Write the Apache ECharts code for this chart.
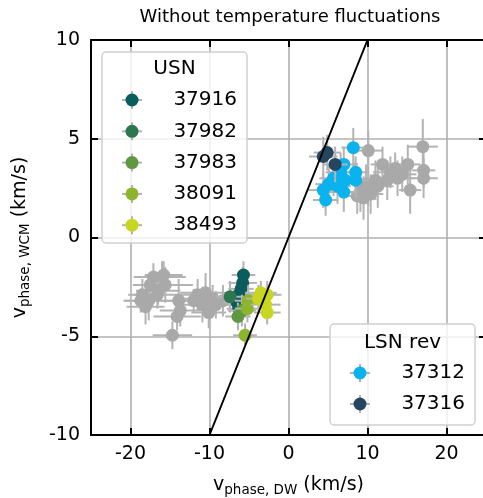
<!DOCTYPE html>
<html>
<head>
<meta charset="utf-8">
<script src="https://cdn.jsdelivr.net/npm/echarts@6/dist/echarts.min.js"></script>
<style>html,body{margin:0;padding:0;background:#fff;}#c{width:483px;height:498px;}</style>
</head>
<body>
<div id="c"></div>
<script>
// ---- data ----
const xTicks = [-20, -10, 0, 10, 20];
const yTicks = [-10, -5, 0, 5, 10];
const refLineX = [-10, 10];
const refLineY = [-10, 10];

// background (gray) points, USN side
const grayUsnX  = [-17.1, -16.0, -17.5, -15.6, -16.5, -18.5, -18.7, -17.7, -18.1, -16.6, -13.9, -13.7, -14.1, -14.7, -11.5, -10.5, -9.6, -10.9, -10.1, -9.2, -12.0, -15.8, -8.3];
const grayUsnY  = [-2.0, -2.0, -2.4, -2.4, -2.7, -2.9, -3.2, -3.2, -3.5, -2.9, -3.2, -3.7, -4.0, -4.95, -2.9, -2.8, -3.1, -3.4, -3.8, -3.4, -3.2, -1.9, -3.2];
const grayUsnXe = [2.5, 3.0, 2.2, 3.5, 2.8, 1.8, 2.0, 3.2, 2.4, 3.0, 3.6, 2.6, 3.0, 2.5, 2.6, 3.2, 3.8, 2.8, 2.2, 3.4, 2.0, 2.4, 3.0];
const grayUsnYe = [0.7, 0.8, 0.6, 0.9, 0.7, 0.8, 0.6, 1.0, 0.9, 0.7, 1.1, 0.8, 0.7, 0.7, 0.8, 1.0, 0.7, 0.9, 0.8, 0.7, 0.6, 0.7, 0.8];

// background (gray) points, LSN side
const grayLsnX  = [10.1, 17.0, 11.9, 13.5, 15.1, 17.1, 17.1, 15.4, 13.8, 12.5, 11.3, 10.1, 9.1, 9.5, 8.7, 10.4, 14.4, 12.9, 11.0, 9.8];
const grayLsnY  = [4.4, 4.6, 3.7, 3.5, 3.7, 3.4, 3.0, 2.4, 3.0, 2.9, 2.6, 2.5, 2.3, 2.0, 2.1, 2.2, 3.2, 3.3, 2.9, 2.7];
const grayLsnXe = [1.8, 1.9, 1.5, 2.0, 1.6, 1.5, 1.8, 1.4, 2.2, 1.8, 2.0, 1.7, 1.9, 1.5, 2.1, 1.6, 1.8, 2.2, 1.6, 1.9];
const grayLsnYe = [1.0, 1.4, 0.9, 0.8, 1.0, 0.9, 1.0, 1.2, 0.9, 1.0, 1.1, 0.9, 1.0, 1.1, 0.9, 1.0, 0.9, 0.8, 1.0, 1.0];

// USN series
const s37916X = [-5.7, -5.8, -6.0, -6.3, -6.5, -6.3];
const s37916Y = [-1.9, -2.3, -2.6, -2.9, -3.3, -3.6];
const s37916Xe = [1.5, 1.8, 1.6, 2.0, 1.7, 1.5];
const s37916Ye = [0.7, 0.8, 0.6, 0.7, 0.8, 0.7];

const s37982X = [-7.4];
const s37982Y = [-3.0];
const s37982Xe = [1.8];
const s37982Ye = [0.8];

const s37983X = [-6.4, -5.9];
const s37983Y = [-4.0, -3.7];
const s37983Xe = [1.6, 1.8];
const s37983Ye = [0.7, 0.8];

const s38091X = [-5.1, -5.2, -5.5];
const s38091Y = [-3.2, -3.6, -4.95];
const s38091Xe = [1.7, 1.6, 1.5];
const s38091Ye = [0.8, 0.7, 0.6];

const s38493X = [-3.5, -2.7, -2.9, -2.7, -3.8];
const s38493Y = [-2.8, -2.9, -3.4, -3.8, -3.1];
const s38493Xe = [2.0, 1.8, 1.9, 1.7, 1.6];
const s38493Ye = [0.6, 0.7, 0.7, 0.6, 0.7];

// LSN rev series
const s37312X = [8.2, 7.0, 8.5, 8.5, 6.6, 5.7, 5.1, 4.4, 4.7, 7.0, 6.2, 7.2];
const s37312Y = [4.55, 3.7, 3.3, 2.9, 3.3, 3.0, 2.7, 2.4, 1.9, 2.3, 2.6, 2.9];
const s37312Xe = [1.5, 1.8, 1.6, 1.7, 1.9, 1.8, 1.7, 1.9, 1.6, 1.8, 1.7, 1.6];
const s37312Ye = [1.0, 0.9, 0.8, 0.9, 1.0, 0.9, 1.0, 0.9, 0.8, 1.0, 0.9, 0.9];

const s37316X = [4.4, 4.9, 5.9];
const s37316Y = [4.1, 4.3, 3.7];
const s37316Xe = [1.8, 1.7, 1.6];
const s37316Ye = [1.0, 0.9, 0.9];

const usnNames  = ['37916', '37982', '37983', '38091', '38493'];
const usnColors = ['#0b5c5c', '#2d7750', '#5f9841', '#8db52c', '#c9d621'];
const lsnNames  = ['37312', '37316'];
const lsnColors = ['#0ab2ee', '#254560'];

// ---- build ----
const FONT = 'DejaVu Sans';
const ECOLOR = '#b3b3b3';
const GRAY = '#a9a9a9';

function zip(xs, ys, xe, ye) { return xs.map((x, i) => [x, ys[i], xe[i], ye[i]]); }

function errSeries(data, z) {
  return {
    type: 'custom', data: data, z: z, silent: true, clip: true,
    encode: { x: 0, y: 1 },
    renderItem: function (params, api) {
      const x = api.value(0), y = api.value(1), xe = api.value(2), ye = api.value(3);
      const a = api.coord([x - xe, y]), b = api.coord([x + xe, y]);
      const c = api.coord([x, y - ye]), d = api.coord([x, y + ye]);
      const st = { stroke: ECOLOR, lineWidth: 2 };
      return { type: 'group', children: [
        { type: 'line', shape: { x1: a[0], y1: a[1], x2: b[0], y2: b[1] }, style: st },
        { type: 'line', shape: { x1: c[0], y1: c[1], x2: d[0], y2: d[1] }, style: st }
      ]};
    }
  };
}
function markSeries(name, data, color, z) {
  return {
    type: 'scatter', name: name, data: data.map(p => [p[0], p[1]]), z: z,
    symbol: 'circle', symbolSize: 13, itemStyle: { color: color, opacity: 1 },
    emphasis: { disabled: true }
  };
}

const groups = [
  { name: 'grayUsn', data: zip(grayUsnX, grayUsnY, grayUsnXe, grayUsnYe), color: GRAY },
  { name: 'grayLsn', data: zip(grayLsnX, grayLsnY, grayLsnXe, grayLsnYe), color: GRAY },
  { name: usnNames[0], data: zip(s37916X, s37916Y, s37916Xe, s37916Ye), color: usnColors[0] },
  { name: usnNames[1], data: zip(s37982X, s37982Y, s37982Xe, s37982Ye), color: usnColors[1] },
  { name: usnNames[2], data: zip(s37983X, s37983Y, s37983Xe, s37983Ye), color: usnColors[2] },
  { name: usnNames[3], data: zip(s38091X, s38091Y, s38091Xe, s38091Ye), color: usnColors[3] },
  { name: usnNames[4], data: zip(s38493X, s38493Y, s38493Xe, s38493Ye), color: usnColors[4] },
  { name: lsnNames[0], data: zip(s37312X, s37312Y, s37312Xe, s37312Ye), color: lsnColors[0] },
  { name: lsnNames[1], data: zip(s37316X, s37316Y, s37316Xe, s37316Ye), color: lsnColors[1] }
];

const series = [];
groups.forEach((g, i) => {
  series.push(errSeries(g.data, 2 + i * 2));
  series.push(markSeries(g.name, g.data, g.color, 3 + i * 2));
});
series.push({
  type: 'line', data: refLineX.map((x, i) => [x, refLineY[i]]), symbol: 'none', z: 50,
  lineStyle: { color: '#000', width: 2 }, silent: true
});

// legends (graphic)
function legendBox(left, top, w, h, title, names, colors, titleY, firstY, step, markX, textRight) {
  const els = [{
    type: 'rect', shape: { x: left, y: top, width: w, height: h, r: 4 },
    style: { fill: 'rgba(255,255,255,0.8)', stroke: '#d0d0d0', lineWidth: 1.5 }, z: 100
  }, {
    type: 'text', x: left + w / 2, y: titleY, z: 101,
    style: { text: title, font: '20px "' + FONT + '"', fill: '#000', align: 'center', verticalAlign: 'middle' }
  }];
  names.forEach((n, i) => {
    const y = firstY + i * step;
    els.push({ type: 'line', shape: { x1: markX - 10, y1: y, x2: markX + 10, y2: y }, style: { stroke: ECOLOR, lineWidth: 2 }, z: 101 });
    els.push({ type: 'line', shape: { x1: markX, y1: y - 9, x2: markX, y2: y + 9 }, style: { stroke: ECOLOR, lineWidth: 2 }, z: 101 });
    els.push({ type: 'circle', shape: { cx: markX, cy: y, r: 6.5 }, style: { fill: colors[i] }, z: 102 });
    els.push({ type: 'text', x: textRight, y: y, z: 102,
      style: { text: n, font: '20px "' + FONT + '"', fill: '#000', align: 'right', verticalAlign: 'middle' } });
  });
  return els;
}
const graphic = [].concat(
  legendBox(102, 52, 145, 191, 'USN', usnNames, usnColors, 69, 100, 31.3, 132, 237),
  legendBox(330, 324, 145, 101, 'LSN rev', lsnNames, lsnColors, 343, 373, 31, 360, 465),
  [{
    type: 'text', x: 290, y: 17, z: 110,
    style: { text: 'Without temperature fluctuations', font: '18px "' + FONT + '"', fill: '#000', align: 'center', verticalAlign: 'middle' }
  }]
);

const axisCommon = {
  type: 'value',
  axisLine: { show: true, onZero: false, lineStyle: { color: '#000', width: 2 } },
  axisTick: { show: true, inside: true, length: 7, lineStyle: { color: '#000', width: 2 } }
};

const option = {
  animation: false,
  backgroundColor: '#fff',
  grid: { left: 91, top: 40, right: -3, bottom: 63, outerBoundsMode: 'none', containLabel: false },
  xAxis: [
    Object.assign({}, axisCommon, {
      min: -25, max: 25, position: 'bottom',
      axisTick: Object.assign({}, axisCommon.axisTick, { customValues: xTicks }),
      axisLabel: { customValues: xTicks, fontFamily: FONT, fontSize: 19, color: '#000', margin: 10,
        formatter: v => String(v) },
      splitLine: { show: true, lineStyle: { color: '#b0b0b0', width: 1.6 } },
      name: '{v|v}{s|phase, DW}{v| (km/s)}', nameLocation: 'middle', nameGap: 37,
      nameTextStyle: { rich: {
        v: { fontFamily: FONT, fontSize: 19, color: '#000', lineHeight: 26 },
        s: { fontFamily: FONT, fontSize: 13.5, color: '#000', lineHeight: 26, padding: [10, 0, 0, 0] }
      } }
    }),
    Object.assign({}, axisCommon, {
      min: -25, max: 25, position: 'top',
      axisTick: Object.assign({}, axisCommon.axisTick, { customValues: xTicks }),
      axisLabel: { show: false }, splitLine: { show: false }
    })
  ],
  yAxis: [
    Object.assign({}, axisCommon, {
      min: -10, max: 10, interval: 5, position: 'left',
      axisLabel: { fontFamily: FONT, fontSize: 19, color: '#000', margin: 11 },
      splitLine: { show: true, lineStyle: { color: '#b0b0b0', width: 1.6 } },
      name: '{v|v}{s|phase, WCM}{v| (km/s)}', nameLocation: 'middle', nameGap: 58, nameRotate: 90,
      nameTextStyle: { rich: {
        v: { fontFamily: FONT, fontSize: 19, color: '#000', lineHeight: 26 },
        s: { fontFamily: FONT, fontSize: 13.5, color: '#000', lineHeight: 26, padding: [10, 0, 0, 0] }
      } }
    }),
    Object.assign({}, axisCommon, {
      min: -10, max: 10, interval: 5, position: 'right',
      axisLabel: { show: false }, splitLine: { show: false }
    })
  ],
  series: series,
  graphic: graphic
};

const chart = echarts.init(document.getElementById('c'), null, { renderer: 'canvas' });
chart.setOption(option);
</script>
</body>
</html>
